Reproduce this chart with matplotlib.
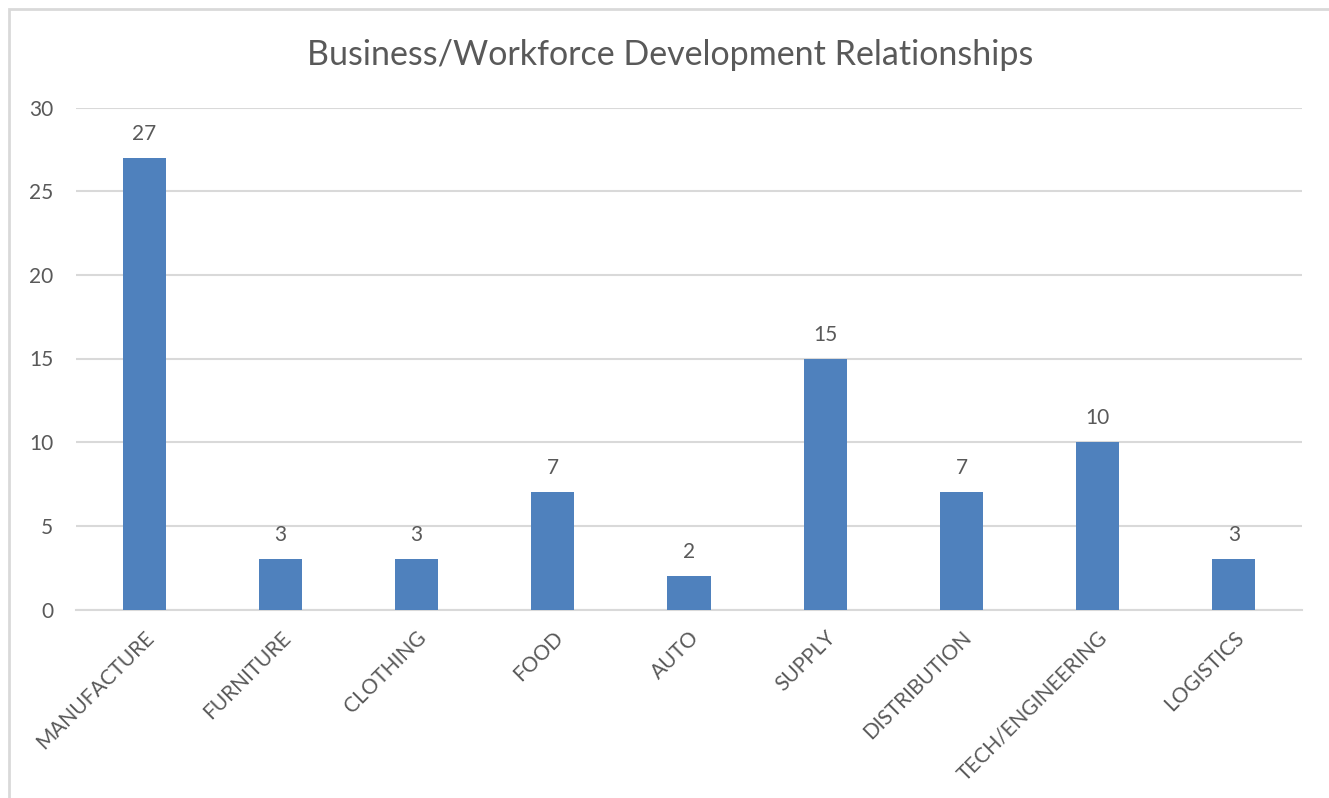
import numpy as np
import matplotlib.pyplot as plt
from matplotlib.patches import Rectangle

categories = ["MANUFACTURE", "FURNITURE", "CLOTHING", "FOOD", "AUTO",
              "SUPPLY", "DISTRIBUTION", "TECH/ENGINEERING", "LOGISTICS"]
values = [27, 3, 3, 7, 2, 15, 7, 10, 3]
yticks = [0, 5, 10, 15, 20, 25, 30]

text_col = "#595959"
grid_col = "#d9d9d9"
bar_col = "#4f81bd"

plt.rcParams['font.family'] = ['Lato', 'DejaVu Sans']

fig = plt.figure(figsize=(13.29, 7.98), dpi=100)
ax = fig.add_axes([76/1329, 188.5/798, (1302-76)/1329, (690.5-188.5)/798])

# chart area border (runs off right and bottom edges)
fig.patches.append(Rectangle((9/1329, -0.1), 1.2, (798-9)/798 + 0.1,
                             transform=fig.transFigure, fill=False,
                             edgecolor=grid_col, linewidth=2))

x = np.arange(len(categories))
bars = ax.bar(x, values, width=0.316, color=bar_col, zorder=3)

for xi, v in zip(x, values):
    ax.annotate(str(v), (xi, v), xytext=(0, 10), textcoords="offset points",
                ha="center", va="bottom", fontsize=15, color=text_col)

ax.set_xlim(-0.5, len(categories) - 0.5)
ax.set_ylim(0, 30)
ax.set_yticks(yticks)
ax.yaxis.grid(True, color=grid_col, linewidth=1.5, zorder=0)
ax.tick_params(axis="y", length=0, labelsize=15, labelcolor=text_col, pad=16.5)
ax.tick_params(axis="x", length=0, labelsize=15, labelcolor=text_col, pad=13)
ax.set_xticks(x)
ax.set_xticklabels(categories, rotation=45, ha="right", rotation_mode="anchor")

for s in ["top", "right", "left"]:
    ax.spines[s].set_visible(False)
ax.spines["bottom"].set_color(grid_col)
ax.spines["bottom"].set_linewidth(1.5)

fig.text(670/1329, 1 - 55/798, "Business/Workforce Development Relationships",
         ha="center", va="center", fontsize=24.5, color=text_col)

fig.savefig("out.png", dpi=100)
